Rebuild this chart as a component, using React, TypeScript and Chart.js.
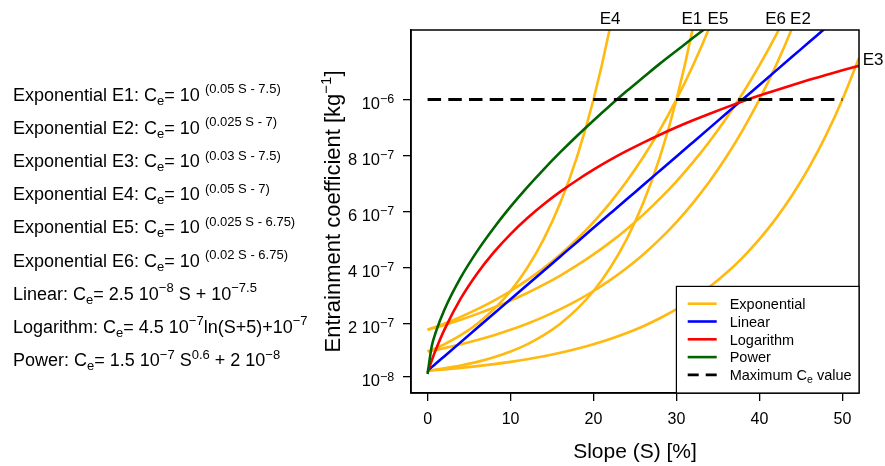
import { useEffect, useRef } from 'react';
import { Chart, registerables } from 'chart.js';

Chart.register(...registerables);

const FONT = "'Liberation Sans', Arial, Helvetica, sans-serif";

// Slope values (S, %) at which the curves were read
const slope = [0, 0.5, 1, 2, 4, 6, 8, 10, 12, 14, 16, 18, 20, 22, 24, 26, 28, 30, 32, 34, 36, 38, 40, 42, 44, 46, 48, 50, 52];

// Entrainment coefficient values, in units of 10^-7 kg^-1
const expE1 = [0.316, 0.335, 0.355, 0.398, 0.501, 0.631, 0.794, 1.0, 1.259, 1.585, 1.995, 2.512, 3.162, 3.981, 5.012, 6.31, 7.943, 10.0, 12.59, 15.85];
const expE2 = [1.0, 1.029, 1.059, 1.122, 1.259, 1.413, 1.585, 1.778, 1.995, 2.239, 2.512, 2.818, 3.162, 3.548, 3.981, 4.467, 5.012, 5.623, 6.31, 7.079, 7.943, 8.913, 10.0, 11.22, 12.59, 14.13];
const expE3 = [0.316, 0.327, 0.339, 0.363, 0.417, 0.479, 0.55, 0.631, 0.724, 0.832, 0.955, 1.096, 1.259, 1.445, 1.66, 1.905, 2.188, 2.512, 2.884, 3.311, 3.802, 4.365, 5.012, 5.754, 6.607, 7.586, 8.71, 10.0, 11.48];
const expE4 = [1.0, 1.059, 1.122, 1.259, 1.585, 1.995, 2.512, 3.162, 3.981, 5.012, 6.31, 7.943, 10.0, 12.59, 15.85];
const expE5 = [1.778, 1.83, 1.884, 1.995, 2.239, 2.512, 2.818, 3.162, 3.548, 3.981, 4.467, 5.012, 5.623, 6.31, 7.079, 7.943, 8.913, 10.0, 11.22, 12.59, 14.13];
const expE6 = [1.778, 1.82, 1.862, 1.95, 2.138, 2.344, 2.57, 2.818, 3.09, 3.388, 3.715, 4.074, 4.467, 4.898, 5.37, 5.888, 6.457, 7.079, 7.762, 8.511, 9.333, 10.23, 11.22, 12.3, 13.49];
const linearCe = [0.316, 0.444, 0.571, 0.826, 1.336, 1.846, 2.356, 2.866, 3.376, 3.886, 4.396, 4.906, 5.416, 5.926, 6.436, 6.946, 7.456, 7.966, 8.476, 8.986, 9.496, 10.01, 10.52, 11.03, 11.54, 12.05, 12.56, 13.07];
const logCe = [0.25, 0.679, 1.07, 1.764, 2.895, 3.798, 4.55, 5.194, 5.757, 6.258, 6.708, 7.117, 7.492, 7.839, 8.161, 8.46, 8.742, 9.007, 9.257, 9.493, 9.718, 9.933, 10.14, 10.33, 10.52, 10.7, 10.87, 11.04, 11.2];
const powerCe = [0.2, 1.19, 1.7, 2.474, 3.646, 4.595, 5.423, 6.172, 6.862, 7.507, 8.117, 8.697, 9.251, 9.784, 10.3, 10.79, 11.28, 11.74, 12.2, 12.65, 13.08];

// Maximum Ce value line
const maxSlope = [0, 50];
const maxCe = [10, 10];

// Axis ticks
const xTicks = [0, 10, 20, 30, 40, 50];
const yTicks = [0.1, 2, 4, 6, 8, 10];
const yTickMantissa = ['', '2 ', '4 ', '6 ', '8 ', ''];
const yTickExponent = ['\u22128', '\u22127', '\u22127', '\u22127', '\u22127', '\u22126'];

// Curve end labels
const curveLabelNames = ['E4', 'E1', 'E5', 'E6', 'E2', 'E3'];
const curveLabelS = [22.0, 31.85, 35.0, 41.95, 44.95, 52.45];
const curveLabelCe = [12.71, 12.71, 12.71, 12.71, 12.71, 11.22];

// Legend
const legendLabels = ['Exponential', 'Linear', 'Logarithm', 'Power', 'Maximum C'];
const legendColors = ['#FFB90F', '#0000FF', '#FF0000', '#006400', '#000000'];

const YELLOW = '#FFB90F';

const pts = (xs: number[], ys: number[]) => ys.map((v, i) => ({ x: xs[i], y: v }));

const annotate = {
  id: 'annotate',
  afterDraw(chart: any) {
    const { ctx, chartArea: a, scales } = chart;
    const x = scales.x;
    const y = scales.y;
    ctx.save();
    ctx.fillStyle = '#000';
    ctx.strokeStyle = '#000';

    // y tick labels with exponents
    const mainF = `16.5px ${FONT}`;
    const supF = `12.5px ${FONT}`;
    ctx.textAlign = 'left';
    ctx.textBaseline = 'alphabetic';
    yTicks.forEach((v, i) => {
      const py = y.getPixelForValue(v);
      const main = yTickMantissa[i] + '10';
      const sup = yTickExponent[i];
      ctx.font = mainF;
      const mw = ctx.measureText(main).width;
      ctx.font = supF;
      const sw = ctx.measureText(sup).width;
      const right = a.left - 16.7;
      ctx.font = mainF;
      ctx.fillText(main, right - mw - sw, py + 9.5);
      ctx.font = supF;
      ctx.fillText(sup, right - sw, py + 3.8);
    });

    // y title
    ctx.save();
    ctx.translate(340, (a.top + a.bottom) / 2);
    ctx.rotate(-Math.PI / 2);
    const tF = `22px ${FONT}`;
    const tS = `15px ${FONT}`;
    const p1 = 'Entrainment coefficient [kg';
    const p2 = '\u22121';
    const p3 = ']';
    ctx.font = tF;
    const w1 = ctx.measureText(p1).width;
    const w3 = ctx.measureText(p3).width;
    ctx.font = tS;
    const w2 = ctx.measureText(p2).width;
    let sx = -(w1 + w2 + w3) / 2;
    ctx.font = tF;
    ctx.fillText(p1, sx, 0);
    sx += w1;
    ctx.font = tS;
    ctx.fillText(p2, sx, -9);
    sx += w2;
    ctx.font = tF;
    ctx.fillText(p3, sx, 0);
    ctx.restore();

    // x title
    ctx.font = `21px ${FONT}`;
    ctx.textAlign = 'center';
    ctx.fillText('Slope (S) [%]', (a.left + a.right) / 2, 458);

    // curve labels
    ctx.font = `17px ${FONT}`;
    curveLabelNames.forEach((n, i) => {
      ctx.textAlign = i === curveLabelNames.length - 1 ? 'left' : 'center';
      ctx.fillText(n, x.getPixelForValue(curveLabelS[i]), y.getPixelForValue(curveLabelCe[i]));
    });

    // box
    ctx.lineWidth = 1.5;
    ctx.strokeRect(a.left, a.top, a.right - a.left, a.bottom - a.top);

    // legend
    const lw = 182.6;
    const lh = 106.6;
    const lx = a.right - lw;
    const ly = a.bottom - lh;
    ctx.fillStyle = '#fff';
    ctx.fillRect(lx, ly, lw, lh);
    ctx.lineWidth = 1.2;
    ctx.strokeRect(lx, ly, lw, lh);
    ctx.textAlign = 'left';
    legendLabels.forEach((lab, i) => {
      const ry = ly + 17.3 + i * 17.8;
      ctx.strokeStyle = legendColors[i];
      ctx.lineWidth = 2.6;
      ctx.setLineDash(i === 4 ? [11, 7] : []);
      ctx.beginPath();
      ctx.moveTo(lx + 11.3, ry);
      ctx.lineTo(lx + 40.3, ry);
      ctx.stroke();
      ctx.setLineDash([]);
      ctx.fillStyle = '#000';
      ctx.font = `14.5px ${FONT}`;
      ctx.fillText(lab, lx + 53.3, ry + 5.2);
      if (i === 4) {
        const w = ctx.measureText(lab).width;
        ctx.font = `10.5px ${FONT}`;
        ctx.fillText('e', lx + 53.3 + w, ry + 8.2);
        const we = ctx.measureText('e').width;
        ctx.font = `14.5px ${FONT}`;
        ctx.fillText(' value', lx + 53.3 + w + we, ry + 5.2);
      }
    });
    ctx.restore();
  },
};

const Sup = ({ children, gap = 0 }: { children: any; gap?: number }) => (
  <span style={{ fontSize: 13, position: 'relative', top: -7.5, marginLeft: gap }}>{children}</span>
);
const Sub = ({ children }: { children: any }) => (
  <span style={{ fontSize: 13, position: 'relative', top: 4 }}>{children}</span>
);

const eqRows = [
  <>Exponential E1: C<Sub>e</Sub>= 10<Sup gap={5}>(0.05 S - 7.5)</Sup></>,
  <>Exponential E2: C<Sub>e</Sub>= 10<Sup gap={5}>(0.025 S - 7)</Sup></>,
  <>Exponential E3: C<Sub>e</Sub>= 10<Sup gap={5}>(0.03 S - 7.5)</Sup></>,
  <>Exponential E4: C<Sub>e</Sub>= 10<Sup gap={5}>(0.05 S - 7)</Sup></>,
  <>Exponential E5: C<Sub>e</Sub>= 10<Sup gap={5}>(0.025 S - 6.75)</Sup></>,
  <>Exponential E6: C<Sub>e</Sub>= 10<Sup gap={5}>(0.02 S - 6.75)</Sup></>,
  <>Linear: C<Sub>e</Sub>= 2.5 10<Sup>{'\u22128'}</Sup> S + 10<Sup>{'\u22127.5'}</Sup></>,
  <>Logarithm: C<Sub>e</Sub>= 4.5 10<Sup>{'\u22127'}</Sup>ln(S+5)+10<Sup>{'\u22127'}</Sup></>,
  <>Power: C<Sub>e</Sub>= 1.5 10<Sup>{'\u22127'}</Sup> S<Sup>0.6</Sup> + 2 10<Sup>{'\u22128'}</Sup></>,
];

export default function App() {
  const ref = useRef<HTMLCanvasElement | null>(null);

  useEffect(() => {
    if (!ref.current) return;
    const line = (data: any[], color: string, order: number, extra: any = {}) => ({
      data,
      borderColor: color,
      borderWidth: 2.6,
      pointRadius: 0,
      fill: false,
      cubicInterpolationMode: 'monotone',
      clip: 0,
      order,
      ...extra,
    });
    const chart = new Chart(ref.current, {
      type: 'line',
      data: {
        datasets: [
          line(pts(slope, expE1), YELLOW, 10),
          line(pts(slope, expE2), YELLOW, 10),
          line(pts(slope, expE3), YELLOW, 10),
          line(pts(slope, expE4), YELLOW, 10),
          line(pts(slope, expE5), YELLOW, 10),
          line(pts(slope, expE6), YELLOW, 10),
          line(pts(slope, linearCe), '#0000FF', 4),
          line(pts(slope, logCe), '#FF0000', 3),
          line(pts(slope, powerCe), '#006400', 2),
          line(pts(maxSlope, maxCe), '#000000', 1, { borderDash: [13.5, 7.2], borderWidth: 3 }),
        ] as any,
      },
      options: {
        animation: false,
        responsive: false,
        devicePixelRatio: 1,
        layout: { padding: { top: 30, right: 26, left: 0, bottom: 0 } },
        plugins: { legend: { display: false }, tooltip: { enabled: false } },
        scales: {
          x: {
            type: 'linear',
            min: -2,
            max: 52,
            afterBuildTicks: (s: any) => {
              s.ticks = xTicks.map((v) => ({ value: v }));
            },
            afterFit: (s: any) => {
              s.height = 73;
            },
            grid: { drawOnChartArea: false, drawTicks: true, tickLength: 8, color: '#000', lineWidth: 1.3 },
            border: { display: true, color: '#000', width: 1.5 },
            ticks: { font: { size: 16, family: FONT }, color: '#000', padding: 9, maxRotation: 0 },
          },
          y: {
            type: 'linear',
            min: -0.48,
            max: 12.48,
            afterBuildTicks: (s: any) => {
              s.ticks = yTicks.map((v) => ({ value: v }));
            },
            afterFit: (s: any) => {
              s.width = 411;
            },
            grid: { drawOnChartArea: false, drawTicks: true, tickLength: 8, color: '#000', lineWidth: 1.3 },
            border: { display: true, color: '#000', width: 1.5 },
            ticks: { callback: () => '', font: { size: 16, family: FONT } },
          },
        },
      },
      plugins: [annotate],
    });
    return () => chart.destroy();
  }, []);

  return (
    <div style={{ position: 'absolute', left: 0, top: 0, width: 885, height: 466, background: '#fff', overflow: 'hidden' }}>
      <canvas ref={ref} width={885} height={466} style={{ position: 'absolute', left: 0, top: 0, width: 885, height: 466 }} />
      {eqRows.map((row, i) => (
        <div
          key={i}
          style={{
            position: 'absolute',
            left: 13,
            top: 101 + i * 33.15 - 15.2,
            fontFamily: FONT,
            fontSize: 18,
            lineHeight: '18px',
            whiteSpace: 'nowrap',
            color: '#000',
          }}
        >
          {row}
        </div>
      ))}
    </div>
  );
}
